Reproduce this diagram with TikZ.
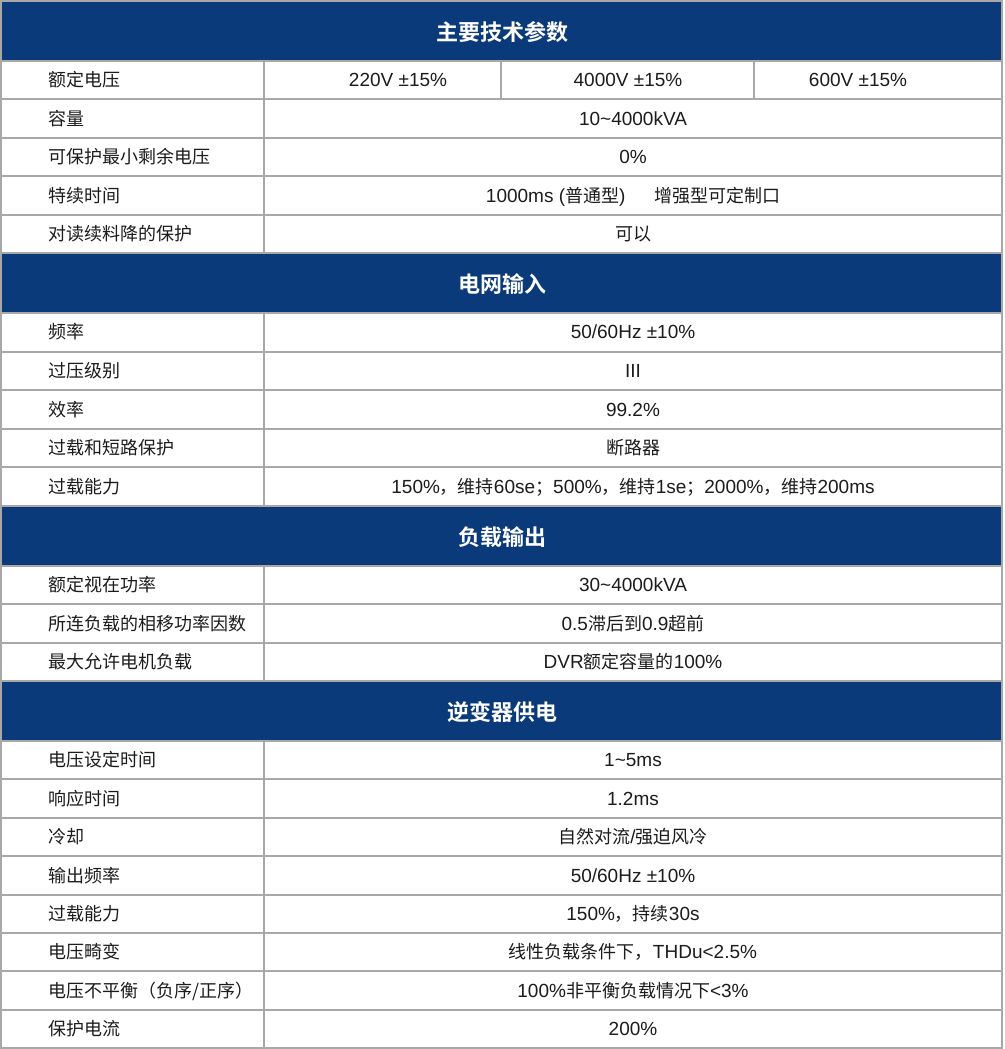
\documentclass[tikz,border=0pt]{standalone}
\usepackage{fontspec}
\setmainfont{Liberation Sans}
\newfontfamily\cjk{Noto Sans CJK SC}
\newfontfamily\cjkb{Noto Sans CJK SC Bold}
\newcommand\C[1]{{\cjk\fontsize{18}{18}\selectfont #1}}
\definecolor{hdblue}{RGB}{10,58,122}
\definecolor{linegrey}{RGB}{168,168,168}
\definecolor{txt}{RGB}{28,28,28}
\begin{document}
\begin{tikzpicture}[x=1pt,y=-1pt,
  lab/.style={anchor=base west, inner sep=0pt, yshift=-6.6pt, text=txt, font=\cjk\fontsize{18}{18}\selectfont},
  val/.style={anchor=base, inner sep=0pt, yshift=-6.6pt, text=txt, font=\fontsize{19}{19}\selectfont},
  hd/.style={anchor=base, inner sep=0pt, yshift=-9.6pt, text=white, font=\cjkb\fontsize{22}{22}\selectfont},
  hdfill/.style={fill=hdblue, draw=none},
  gridline/.style={draw=linegrey, line width=2pt}]
\useasboundingbox (0,0) rectangle (1004,1049);
\fill[white] (0,0) rectangle (1004,1049);
% header bands
\path[hdfill] (1,1) rectangle (1002,61);
\path[hdfill] (1,253) rectangle (1002,313);
\path[hdfill] (1,506) rectangle (1002,566);
\path[hdfill] (1,681) rectangle (1002,741);
% horizontal lines
\foreach \yy in {1,61,99.4,137.8,176.2,214.6,253,313,351.6,390.2,428.8,467.4,506,566,604.3,642.7,681,741,779.4,817.8,856.2,894.6,933,971.4,1009.8,1048}
  \draw[gridline] (0,\yy) -- (1003,\yy);
% outer verticals
\draw[gridline] (1,0) -- (1,1049);
\draw[gridline] (1002,0) -- (1002,1049);
% column dividers (data rows only)
\draw[gridline] (264,61) -- (264,253);
\draw[gridline] (264,313) -- (264,506);
\draw[gridline] (264,566) -- (264,681);
\draw[gridline] (264,741) -- (264,1048);
\draw[gridline] (501,61) -- (501,99.4);
\draw[gridline] (754,61) -- (754,99.4);
% headers
\node[hd] (h1) at (502,31) {主要技术参数};
\node[hd] (h2) at (502,283) {电网输入};
\node[hd] (h3) at (502,536) {负载输出};
\node[hd] (h4) at (502,711) {逆变器供电};
% section 1
\node[lab] (l1) at (48,80.2) {额定电压};
\node[val] (v1a) at (398,80.2) {220V ±15\%};
\node[val] (v1b) at (628,80.2) {4000V ±15\%};
\node[val] (v1c) at (858,80.2) {600V ±15\%};
\node[lab] (l2) at (48,118.6) {容量};
\node[val] (v2) at (633,118.6) {10\textasciitilde 4000kVA};
\node[lab] (l3) at (48,157) {可保护最小剩余电压};
\node[val] (v3) at (633,157) {0\%};
\node[lab] (l4) at (48,195.4) {特续时间};
\node[val] (v4) at (633,195.4) {1000ms (\C{普通型})\hspace{1.5em}\C{增强型可定制口}};
\node[lab] (l5) at (48,233.8) {对读续料降的保护};
\node[val] (v5) at (633,233.8) {\C{可以}};
% section 2
\node[lab] (l6) at (48,332.3) {频率};
\node[val] (v6) at (633,332.3) {50/60Hz ±10\%};
\node[lab] (l7) at (48,370.9) {过压级别};
\node[val] (v7) at (633,370.9) {III};
\node[lab] (l8) at (48,409.5) {效率};
\node[val] (v8) at (633,409.5) {99.2\%};
\node[lab] (l9) at (48,448.1) {过载和短路保护};
\node[val] (v9) at (633,448.1) {\C{断路器}};
\node[lab] (l10) at (48,486.7) {过载能力};
\node[val] (v10) at (633,486.7) {150\%\C{，维持}60se\C{；}500\%\C{，维持}1se\C{；}2000\%\C{，维持}200ms};
% section 3
\node[lab] (l11) at (48,585.15) {额定视在功率};
\node[val] (v11) at (633,585.15) {30\textasciitilde 4000kVA};
\node[lab] (l12) at (48,623.5) {所连负载的相移功率因数};
\node[val] (v12) at (633,623.5) {0.5\C{滞后到}0.9\C{超前}};
\node[lab] (l13) at (48,661.85) {最大允许电机负载};
\node[val] (v13) at (633,661.85) {DVR\C{额定容量的}100\%};
% section 4
\node[lab] (l14) at (48,760.2) {电压设定时间};
\node[val] (v14) at (633,760.2) {1\textasciitilde 5ms};
\node[lab] (l15) at (48,798.6) {响应时间};
\node[val] (v15) at (633,798.6) {1.2ms};
\node[lab] (l16) at (48,837) {冷却};
\node[val] (v16) at (633,837) {\C{自然对流}/\C{强迫风冷}};
\node[lab] (l17) at (48,875.4) {输出频率};
\node[val] (v17) at (633,875.4) {50/60Hz ±10\%};
\node[lab] (l18) at (48,913.8) {过载能力};
\node[val] (v18) at (633,913.8) {150\%\C{，持续}30s};
\node[lab] (l19) at (48,952.2) {电压畸变};
\node[val] (v19) at (633,952.2) {\C{线性负载条件下，}THDu<2.5\%};
\node[lab] (l20) at (48,990.6) {电压不平衡（负序/正序）};
\node[val] (v20) at (633,990.6) {100\%\C{非平衡负载情况下}<3\%};
\node[lab] (l21) at (48,1029) {保护电流};
\node[val] (v21) at (633,1029) {200\%};
\end{tikzpicture}
\end{document}
